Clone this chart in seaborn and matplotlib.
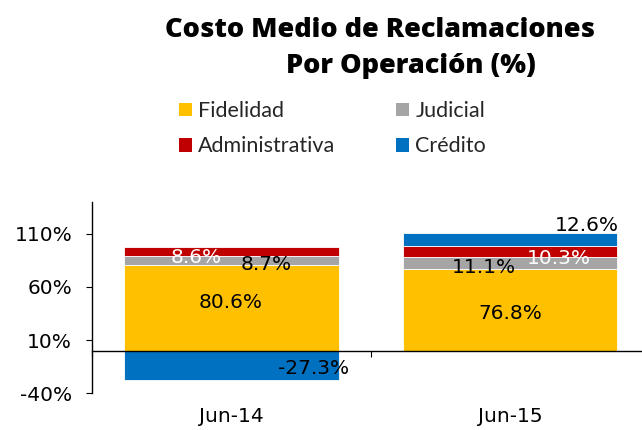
import numpy as np
import matplotlib
matplotlib.use("Agg")
import matplotlib.pyplot as plt
from matplotlib.patches import Patch
import seaborn as sns

# --- data -------------------------------------------------------------
periods = ["Jun-14", "Jun-15"]
series = ["Fidelidad", "Judicial", "Administrativa", "Crédito"]
fidelidad = [80.6, 76.8]
judicial = [8.7, 11.1]
administrativa = [8.6, 10.3]
credito = [-27.3, 12.6]
y_ticks = [-40, 10, 60, 110]

# --- styling ----------------------------------------------------------
colors = {
    "Fidelidad": "#FFC000",
    "Judicial": "#A5A5A5",
    "Administrativa": "#C00000",
    "Crédito": "#0070C0",
}
label_colors = {
    "Fidelidad": "black",
    "Judicial": "black",
    "Administrativa": "white",
    "Crédito": "black",
}
# value-label offsets from the segment centre, in pixels (dx, dy) per period
label_offsets = {
    "Fidelidad": [(-1, 5), (0.5, -4)],
    "Judicial": [(35, -4.5), (-26, -4)],
    "Administrativa": [(-35, -6), (48.5, -6.5)],
    "Crédito": [(82.5, -3.5), (77, 14)],
}

sns.set_style("ticks")
plt.rcParams["font.family"] = ["DejaVu Sans"]

fig = plt.figure(figsize=(6.42, 4.30), dpi=100)
ax = fig.add_axes([92 / 642, 36.7 / 430, 557.5 / 642, 191.6 / 430])

values = np.array([fidelidad, judicial, administrativa, credito], dtype=float)
pos_base = np.zeros(len(periods))
neg_base = np.zeros(len(periods))
bottoms = []
for row in values:
    b = np.where(row >= 0, pos_base, neg_base)
    bottoms.append(b)
    pos_base = pos_base + np.clip(row, 0, None)
    neg_base = neg_base + np.clip(row, None, 0)

for name, row, b in zip(series, values, bottoms):
    sns.barplot(x=periods, y=row, bottom=b, color=colors[name], saturation=1,
                width=0.77, errorbar=None, ax=ax, edgecolor="white", linewidth=0.6)
    for i, (v, base) in enumerate(zip(row, b)):
        dx, dy = label_offsets[name][i]
        ax.annotate(f"{v:.1f}%", xy=(i, base + v / 2), xytext=(dx, dy),
                    textcoords="offset pixels", ha="center", va="center",
                    fontsize=14.5, color=label_colors[name], family="DejaVu Sans")

# --- axes -------------------------------------------------------------
ax.set_xlim(-0.5, 1.5)
ax.set_ylim(-40, 140)
ax.set_xlabel("")
ax.set_ylabel("")
ax.set_yticks(y_ticks)
ax.set_yticklabels([f"{t}%" for t in y_ticks])
ax.set_xticks(range(len(periods)))
ax.set_xticklabels(periods)
ax.set_xticks([-0.5, 0.5, 1.5], minor=True)

for side in ("top", "right"):
    ax.spines[side].set_visible(False)
ax.spines["bottom"].set_position(("data", 0))
for side in ("bottom", "left"):
    ax.spines[side].set_color("black")
    ax.spines[side].set_linewidth(1.0)

ax.tick_params(axis="x", which="major", length=0, pad=40.5, labelsize=14.5, colors="black")
ax.tick_params(axis="x", which="minor", length=4.3, width=0.8, direction="out", color="black")
ax.tick_params(axis="y", length=4.3, width=0.8, direction="out", pad=10,
               labelsize=14.5, colors="black")

# --- title ------------------------------------------------------------
title_kw = dict(family="Open Sans", weight="heavy", size=19.5, color="black",
                ha="center", va="baseline")
fig.text(380 / 642, 1 - 37.3 / 430, "Costo Medio de Reclamaciones", **title_kw)
fig.text(410.5 / 642, 1 - 72.7 / 430, "Por Operación (%)", **title_kw)

# --- legend -----------------------------------------------------------
order = ["Fidelidad", "Administrativa", "Judicial", "Crédito"]
handles = [Patch(facecolor=colors[s], edgecolor="none", label=s) for s in order]
fig.legend(handles=handles, ncol=2, loc="upper left",
           bbox_to_anchor=(179 / 642, 1 - 101 / 430), frameon=False,
           prop={"family": "Lato", "size": 15.5},
           handlelength=0.6, handleheight=0.6, handletextpad=0.3,
           columnspacing=2.8, labelspacing=0.72, borderpad=0, borderaxespad=0)

fig.savefig("out.png", dpi=100)
